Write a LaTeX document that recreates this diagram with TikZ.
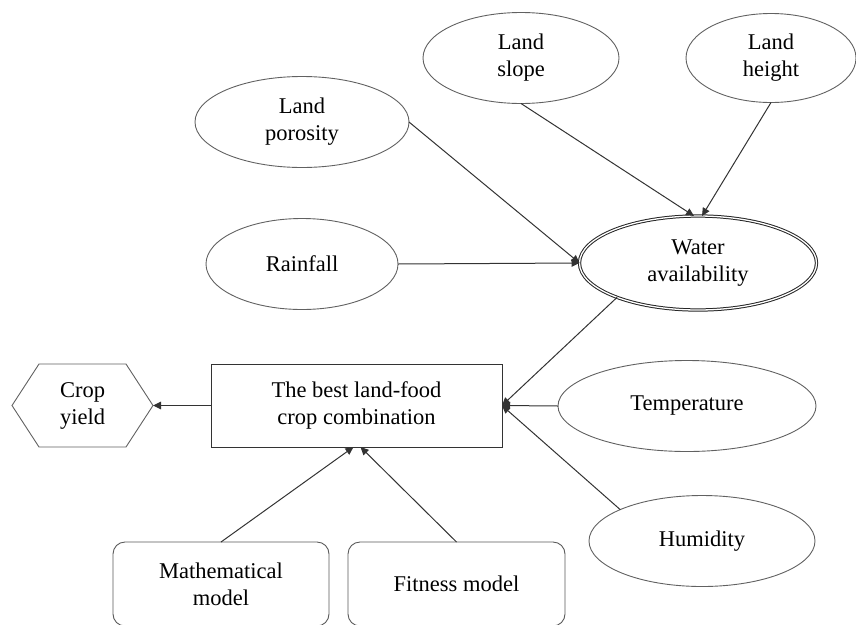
\documentclass[tikz,border=0pt]{standalone}
\usepackage{fontspec}
\setmainfont{Liberation Serif}
\newfontfamily\tnrfont{Liberation Serif}
\usetikzlibrary{shapes.geometric,arrows.meta}
\begin{document}
\begin{tikzpicture}[x=1pt,y=-1pt,
  every node/.style={font=\tnrfont\fontsize{22.5}{27}\selectfont, align=center, inner sep=0pt, outer sep=0pt},
  oval/.style={ellipse, draw=black!62, line width=0.9pt},
  dbloval/.style={ellipse, draw=black!85, line width=1pt, double=white, double distance=1.3pt},
  boxnode/.style={rectangle, draw=black!80, line width=0.9pt},
  roundbox/.style={rectangle, rounded corners=12pt, draw=black!65, line width=0.9pt},
  hexline/.style={draw=black!62, line width=0.9pt},
  conn/.style={draw=black!80, line width=1pt, -{Triangle[length=8pt,width=7.5pt]}}]
\useasboundingbox (0,0) rectangle (856,624);

\node[oval, minimum width=214pt, minimum height=91pt] (porosity) at (302,122) {Land\\porosity};
\node[oval, minimum width=196pt, minimum height=91pt] (slope) at (521,58) {Land\\slope};
\node[oval, minimum width=170pt, minimum height=89pt] (height) at (771,58) {Land\\height};
\node[oval, minimum width=192pt, minimum height=91pt] (rain) at (302,264) {Rainfall};
\node[dbloval, minimum width=237pt, minimum height=94pt] (water) at (698,263) {Water\\availability};
\node[oval, minimum width=258pt, minimum height=91pt] (temp) at (687,406) {Temperature};
\node[oval, minimum width=226pt, minimum height=91pt] (humid) at (702,541) {Humidity};
\node[boxnode, minimum width=291pt, minimum height=83pt] (best) at (356.5,405.5) {The best land-food\\crop combination};
\node[minimum width=141pt, minimum height=83pt] (crop) at (82.5,405.5) {Crop\\yield};
\path[hexline] ([xshift=27pt]crop.north west) -- ([xshift=-27pt]crop.north east) -- (crop.east)
  -- ([xshift=-27pt]crop.south east) -- ([xshift=27pt]crop.south west) -- (crop.west) -- cycle;
\node[roundbox, minimum width=216pt, minimum height=84pt] (math) at (221,584) {Mathematical\\model};
\node[roundbox, minimum width=217pt, minimum height=84pt] (fit) at (456.5,584) {Fitness model};

\draw[conn] (porosity.east) -- (water.west);
\draw[conn] (rain.east) -- (water.west);
\draw[conn] (slope.south) -- ([xshift=-4pt]water.north);
\draw[conn] (height.south) -- ([xshift=4pt]water.north);
\draw[conn] (water.203) -- (best.east);
\draw[conn] (temp.west) -- (best.east);
\draw[conn] (humid.159) -- (best.east);
\draw[conn] (best.west) -- (crop.east);
\draw[conn] (math.north) -- ([xshift=-3pt]best.south);
\draw[conn] (fit.north) -- ([xshift=4pt]best.south);
\end{tikzpicture}
\end{document}
